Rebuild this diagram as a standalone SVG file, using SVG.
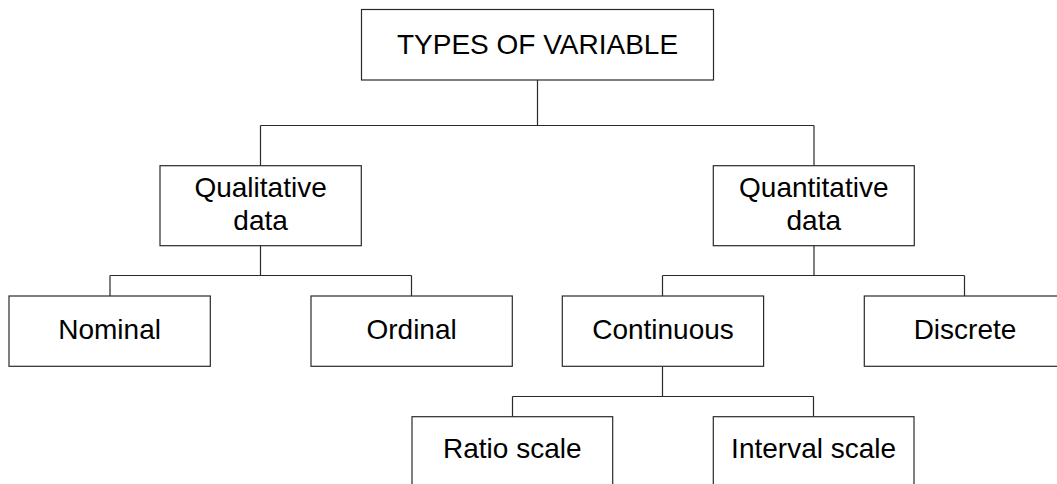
<svg xmlns="http://www.w3.org/2000/svg" width="1057" height="484" viewBox="0 0 1057 484">
<style>
.box{fill:#fff;stroke:#2a2a2a;stroke-width:1.2}
.lbl{font-family:"Liberation Sans",Arial,sans-serif;font-size:28px;fill:#000;text-anchor:middle}
.con{fill:none;stroke:#2a2a2a;stroke-width:1.2}
</style>
<rect width="1057" height="484" fill="#fff"/>
<g id="connectors">
<path class="con" d="M537.5 80V125.5M260.5 125.5H814M260.5 125.5V166M814 125.5V166"/>
<path class="con" d="M260.5 245.5V275.5M110 275.5H411.5M110 275.5V296M411.5 275.5V296"/>
<path class="con" d="M814 245.5V275.5M662.5 275.5H964.5M662.5 275.5V296M964.5 275.5V296"/>
<path class="con" d="M662.5 366V396.5M512.5 396.5H813.5M512.5 396.5V417M813.5 396.5V417"/>
</g>
<g id="types">
<rect class="box" x="361.5" y="9.5" width="352" height="70.5"/>
<text class="lbl" x="537.5" y="53.5">TYPES OF VARIABLE</text>
</g>
<g id="qualitative">
<rect class="box" x="160" y="165.7" width="201.3" height="80"/>
<text class="lbl" x="260.6" y="196.7">Qualitative</text>
<text class="lbl" x="260.6" y="230">data</text>
</g>
<g id="quantitative">
<rect class="box" x="713.3" y="165.7" width="201" height="80"/>
<text class="lbl" x="813.8" y="196.7">Quantitative</text>
<text class="lbl" x="813.8" y="230">data</text>
</g>
<g id="nominal">
<rect class="box" x="9" y="296" width="201.3" height="70.3"/>
<text class="lbl" x="109.6" y="339.3">Nominal</text>
</g>
<g id="ordinal">
<rect class="box" x="311" y="296" width="201.3" height="70.3"/>
<text class="lbl" x="411.6" y="339.3">Ordinal</text>
</g>
<g id="continuous">
<rect class="box" x="562.3" y="296" width="201.3" height="70.3"/>
<text class="lbl" x="663" y="339.3">Continuous</text>
</g>
<g id="discrete">
<rect class="box" x="864.3" y="296" width="201.3" height="70.3"/>
<text class="lbl" x="965" y="339.3">Discrete</text>
</g>
<g id="ratio">
<rect class="box" x="412" y="416.7" width="200.7" height="70.3"/>
<text class="lbl" x="512.3" y="458.3">Ratio scale</text>
</g>
<g id="interval">
<rect class="box" x="713.3" y="416.7" width="200.7" height="70.3"/>
<text class="lbl" x="813.6" y="458.3">Interval scale</text>
</g>
</svg>
